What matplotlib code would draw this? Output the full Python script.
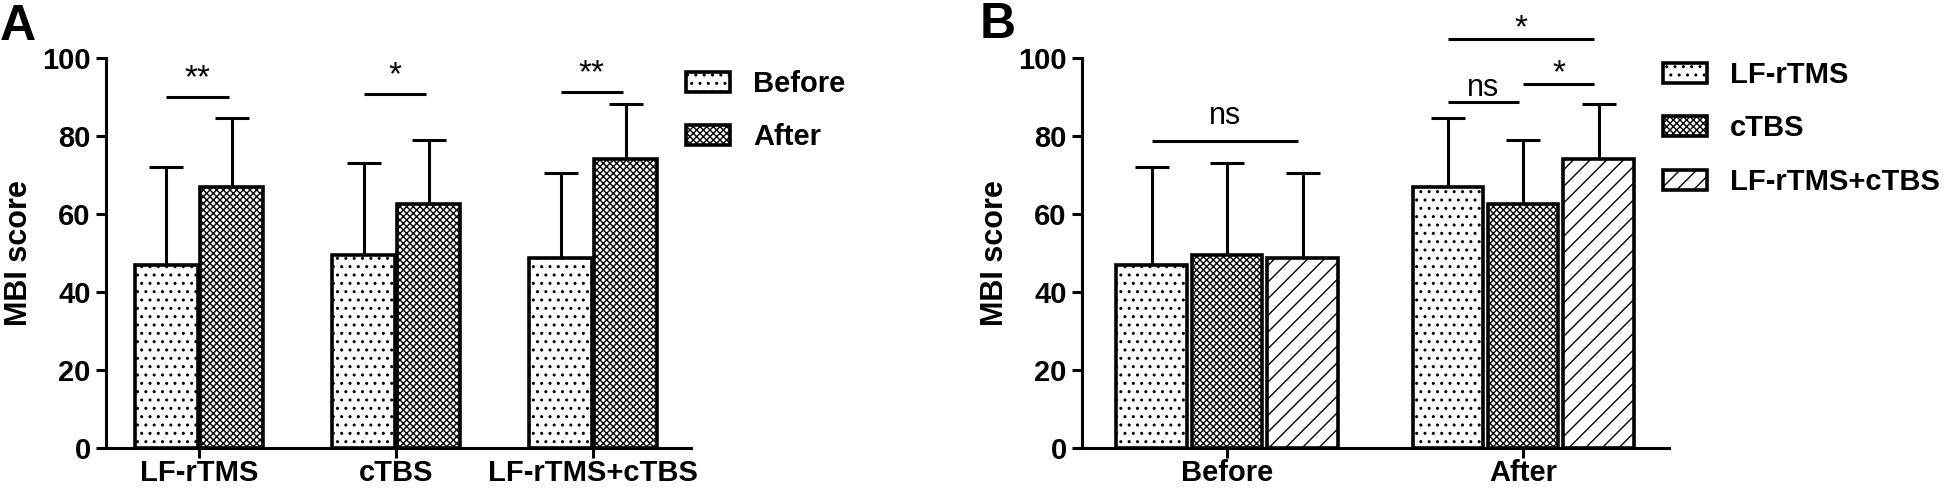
import matplotlib
matplotlib.use("Agg")
import matplotlib.pyplot as plt
import numpy as np

plt.rcParams['font.family'] = ['Liberation Sans', 'DejaVu Sans']
plt.rcParams['font.weight'] = 'bold'
plt.rcParams['hatch.linewidth'] = 1.0
plt.rcParams['hatch.color'] = 'black'

# --- data ---
groups = ['LF-rTMS', 'cTBS', 'LF-rTMS+cTBS']
times = ['Before', 'After']
before_mean = [46.9, 49.5, 48.6]
before_sd = [25.2, 23.7, 21.9]
after_mean = [66.8, 62.5, 74.1]
after_sd = [17.7, 16.5, 14.2]

# panel A significance (before vs after within each group)
sig_a_labels = ['**', '*', '**']
sig_a_y = [90.0, 90.8, 91.3]

# panel B significance: (time index, bar from, bar to, y, label)
sig_b = [(0, 0, 2, 78.7, 'ns'),
         (1, 0, 1, 88.7, 'ns'),
         (1, 1, 2, 93.3, '*'),
         (1, 0, 2, 104.8, '*')]

hatch_time = ['..', 'xxxxx']
hatch_group = ['..', 'xxxxx', '//']

FS = 21
LW = 2.2

fig = plt.figure(figsize=(19.44, 4.91), dpi=100)
axA = fig.add_axes([106/1944, 1-448/491, (691-106)/1944, 390/491])
axB = fig.add_axes([1082/1944, 1-448/491, (1669-1082)/1944, 390/491])


def style_axis(ax):
    for s in ['top', 'right']:
        ax.spines[s].set_visible(False)
    for s in ['left', 'bottom']:
        ax.spines[s].set_linewidth(LW)
    ax.set_ylim(0, 100)
    ax.set_yticks(np.arange(0, 101, 20))
    ax.tick_params(axis='y', width=LW, length=7, labelsize=FS, pad=4)
    ax.tick_params(axis='x', width=LW, length=7, labelsize=FS, pad=1)
    ax.set_ylabel('MBI score', fontsize=22, fontweight='bold', labelpad=6)


def bracket(ax, x1, x2, y, label, dy=1.5, size=22):
    ax.plot([x1, x2], [y, y], color='k', lw=LW, clip_on=False, solid_capstyle='butt')
    ax.text((x1 + x2) / 2, y + dy, label, ha='center', va='baseline',
            fontsize=size, fontweight='normal', clip_on=False)


# ---------- Panel A ----------
x = np.arange(len(groups))
wA = 0.32
offA = 0.165
vals = [before_mean, after_mean]
sds = [before_sd, after_sd]
for i, t in enumerate(times):
    xi = x + (i - 0.5) * 2 * offA
    axA.bar(xi, vals[i], width=wA, color='white', edgecolor='black',
            linewidth=2.6, hatch=hatch_time[i], label=t, zorder=3)
    axA.errorbar(xi, vals[i], yerr=[np.zeros(len(groups)), sds[i]], fmt='none',
                 ecolor='black', elinewidth=LW, capsize=12, capthick=LW, zorder=2)
for j in range(len(groups)):
    bracket(axA, x[j] - offA, x[j] + offA - 0.015, sig_a_y[j], sig_a_labels[j],
            dy=2.5, size=24)
axA.set_xticks(x)
axA.set_xticklabels(groups)
axA.set_xlim(-0.472, 2.497)
style_axis(axA)
axA.legend(loc='upper left', bbox_to_anchor=(686/1944, 1-70/491),
           bbox_transform=fig.transFigure, frameon=False, fontsize=FS,
           borderpad=0, borderaxespad=0, handlelength=1.5, handleheight=0.68,
           handletextpad=0.8, labelspacing=0.87)

# ---------- Panel B ----------
xb = np.arange(len(times))
wB = 0.237
pitch = 0.255
means_by_group = [[before_mean[g], after_mean[g]] for g in range(len(groups))]
sds_by_group = [[before_sd[g], after_sd[g]] for g in range(len(groups))]
for g, name in enumerate(groups):
    xg = xb + (g - 1) * pitch
    axB.bar(xg, means_by_group[g], width=wB, color='white', edgecolor='black',
            linewidth=2.6, hatch=hatch_group[g], label=name, zorder=3)
    axB.errorbar(xg, means_by_group[g], yerr=[np.zeros(len(times)), sds_by_group[g]],
                 fmt='none', ecolor='black', elinewidth=LW, capsize=12, capthick=LW, zorder=2)
for t, b1, b2, y, lab in sig_b:
    x1 = xb[t] + (b1 - 1) * pitch
    x2 = xb[t] + (b2 - 1) * pitch
    if lab == 'ns':
        dy, size = (4.5 if t == 0 else 1.5), 22
    else:
        dy, size = 0.5, 24
    bracket(axB, x1, x2 - 0.015, y, lab, dy=dy, size=size)
axB.set_xticks(xb)
axB.set_xticklabels(times)
axB.set_xlim(-0.49, 1.493)
style_axis(axB)
axB.legend(loc='upper left', bbox_to_anchor=(1663/1944, 1-61/491),
           bbox_transform=fig.transFigure, frameon=False, fontsize=FS,
           borderpad=0, borderaxespad=0, handlelength=1.5, handleheight=0.68,
           handletextpad=0.8, labelspacing=0.87)

fig.text(0.0, 1-40/491, 'A', fontsize=36, fontweight='bold', va='baseline')
fig.text(980/1944, 1-38/491, 'B', fontsize=36, fontweight='bold', va='baseline')

fig.savefig('out.png', dpi=100)
